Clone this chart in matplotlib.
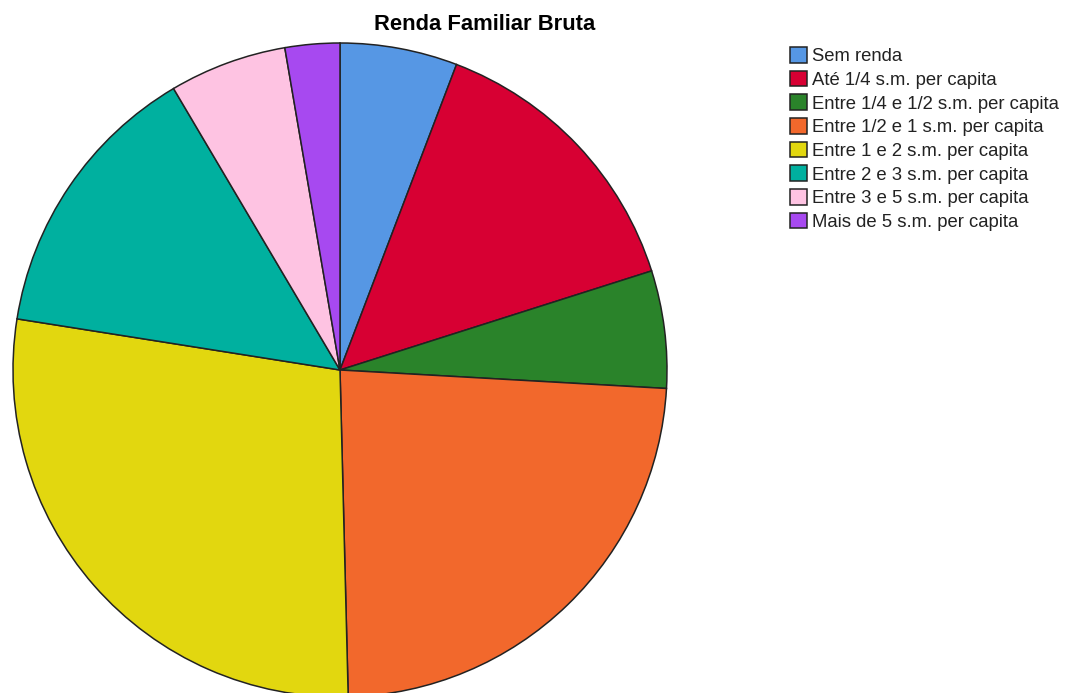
import matplotlib.pyplot as plt

categories = ['Sem renda', 'Até 1/4 s.m. per capita', 'Entre 1/4 e 1/2 s.m. per capita',
              'Entre 1/2 e 1 s.m. per capita', 'Entre 1 e 2 s.m. per capita',
              'Entre 2 e 3 s.m. per capita', 'Entre 3 e 5 s.m. per capita',
              'Mais de 5 s.m. per capita']
percent = [5.8, 14.3, 5.8, 23.7, 27.9, 14.0, 5.8, 2.7]
colors = ['#5697E4', '#D70033', '#2A832A', '#F2682C', '#E2D70F', '#00B09F', '#FEC3E2', '#A749F0']

plt.rcParams['font.family'] = ['Liberation Sans', 'DejaVu Sans']

W, H = 1066, 693
fig = plt.figure(figsize=(W / 100, H / 100), dpi=100)
ax = fig.add_axes([0, 0, 1, 1])
ax.axis('off')

# pie laid out in pixel units, clockwise from 12 o'clock
wedges, _ = ax.pie(percent, colors=colors, startangle=90, counterclock=False,
                   center=(340, H - 370), radius=327,
                   wedgeprops=dict(edgecolor='#222222', linewidth=1.1))
ax.set_xlim(0, W)
ax.set_ylim(0, H)
ax.set_aspect('equal')

fig.text(485 / W, 1 - 25 / H, 'Renda Familiar Bruta', ha='center', va='center',
         fontsize=15.8, fontweight='bold')

fig.legend(wedges, categories, loc='upper left', bbox_to_anchor=(790 / W, 1 - 47 / H),
           frameon=False, fontsize=13.3, handlelength=0.92, handleheight=0.92,
           handletextpad=0.26, labelspacing=0.30, borderpad=0, borderaxespad=0,
           labelcolor='#222222')

fig.savefig('out.png', dpi=100)
